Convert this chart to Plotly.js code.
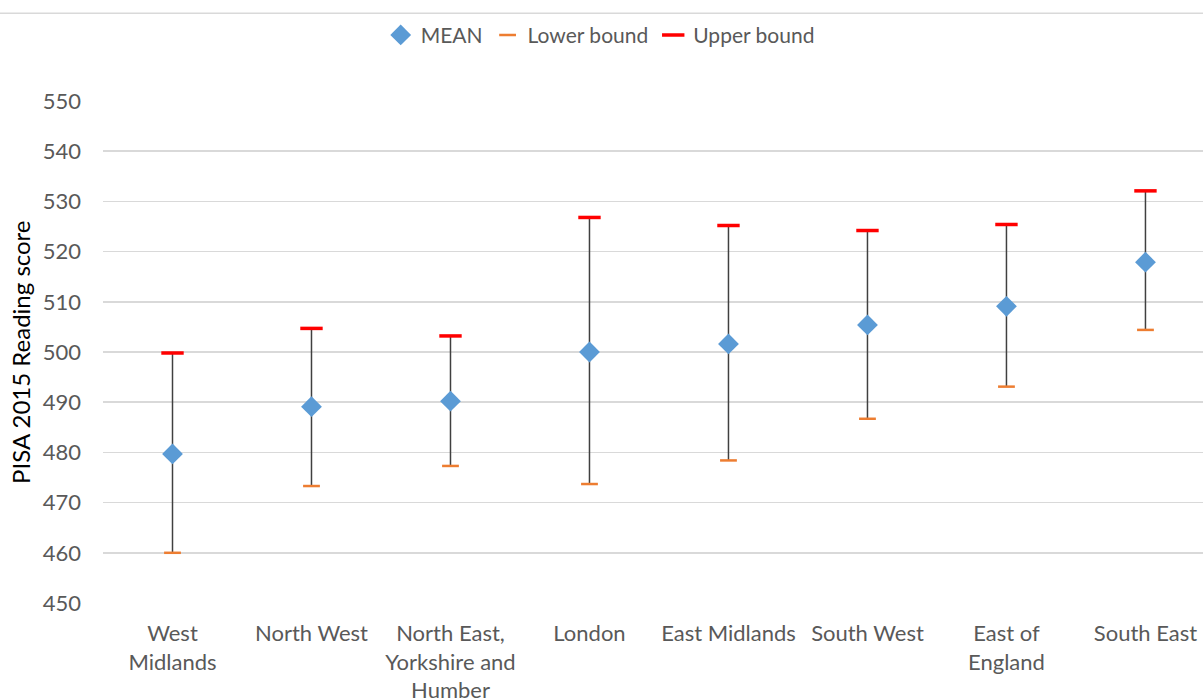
<!DOCTYPE html>
<html>
<head>
<meta charset="utf-8">
<script src="https://cdn.plot.ly/plotly-3.0.1.min.js"></script>
<style>html,body{margin:0;padding:0;background:#fff;}#chart{width:1203px;height:700px;}</style>
</head>
<body>
<div id="chart"></div>
<script>
const regions = ["West<br>Midlands", "North West", "North East,<br>Yorkshire and<br>Humber", "London", "East Midlands", "South West", "East of<br>England", "South East"];
const meanScores = [479.7, 489.1, 490.2, 500.0, 501.6, 505.4, 509.1, 517.9];
const lowerBound = [460.0, 473.3, 477.3, 473.7, 478.4, 486.7, 493.1, 504.4];
const upperBound = [499.8, 504.7, 503.2, 526.8, 525.2, 524.2, 525.4, 532.1];
const yTicks = [450, 460, 470, 480, 490, 500, 510, 520, 530, 540, 550];

const xIdx = regions.map((_, i) => i);
const font = "Lato, 'Open Sans', sans-serif";

const traces = [
  {
    type: "scatter", mode: "markers", name: "MEAN",
    x: xIdx, y: meanScores,
    marker: {symbol: "diamond", size: 16, color: "#5B9BD5"},
    error_y: {
      type: "data", symmetric: false,
      array: upperBound.map((u, i) => u - meanScores[i]),
      arrayminus: meanScores.map((m, i) => m - lowerBound[i]),
      color: "#404040", thickness: 1.5, width: 0
    },
    cliponaxis: false
  },
  {
    type: "scatter", mode: "markers", name: "Lower bound",
    x: xIdx, y: lowerBound,
    marker: {symbol: "line-ew", size: 12, line: {color: "#ED7D31", width: 2.5}},
    cliponaxis: false
  },
  {
    type: "scatter", mode: "markers", name: "Upper bound",
    x: xIdx, y: upperBound,
    marker: {symbol: "line-ew", size: 16, line: {color: "#FF0000", width: 3.5}},
    cliponaxis: false
  }
];

const layout = {
  width: 1203, height: 700,
  margin: {l: 103, r: 0, t: 101, b: 97},
  paper_bgcolor: "#fff", plot_bgcolor: "#fff",
  font: {family: font, color: "#595959", size: 22},
  showlegend: true,
  legend: {
    orientation: "h", x: 0.452, xanchor: "center", y: 1.131, yanchor: "middle",
    font: {family: font, size: 21, color: "#595959"}, itemwidth: 30, traceorder: "normal"
  },
  xaxis: {
    range: [-0.5, 7.414], tickmode: "array", tickvals: xIdx, ticktext: regions,
    showgrid: false, zeroline: false, showline: false, ticks: "",
    ticklabelstandoff: 15,
    tickfont: {family: font, size: 22, color: "#595959"}, fixedrange: true
  },
  yaxis: {
    range: [450, 550], tickmode: "array", tickvals: yTicks,
    showgrid: true, gridcolor: "#D9D9D9", gridwidth: 1.5,
    zeroline: false, showline: false, ticks: "", ticklabelstandoff: 21,
    tickfont: {family: font, size: 22, color: "#595959"}
  },
  shapes: [{
    type: "line", xref: "paper", yref: "paper",
    x0: -0.1, x1: 1, y0: 1.175, y1: 1.175,
    line: {color: "#D9D9D9", width: 1.5}
  }],
  annotations: [{
    text: "PISA 2015 Reading score", xref: "paper", yref: "paper",
    x: -0.0755, y: 0.5, xanchor: "center", yanchor: "middle",
    textangle: -90, showarrow: false,
    font: {family: font, size: 24, color: "#000"}
  }]
};

Plotly.newPlot("chart", traces, layout, {displayModeBar: false, staticPlot: true});
</script>
</body>
</html>
